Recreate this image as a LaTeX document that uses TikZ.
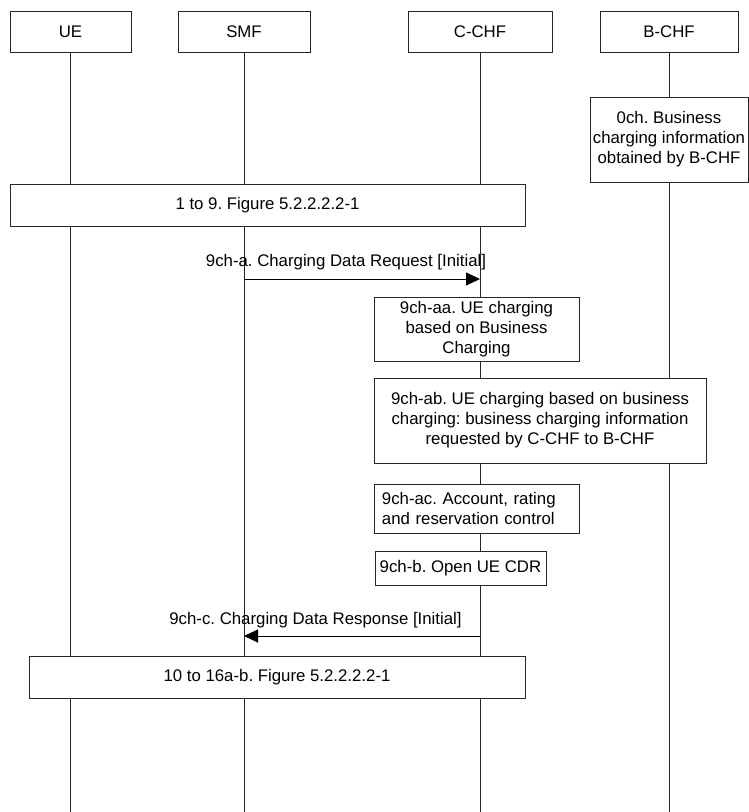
\documentclass[tikz,border=0pt]{standalone}
\usepackage{fontspec}
\setmainfont{Liberation Sans}
\usetikzlibrary{arrows.meta, positioning}
\frenchspacing

\begin{document}
\begin{tikzpicture}[x=1pt, y=-1pt,
    every node/.style={font=\fontsize{16.8}{20}\selectfont},
    entity/.style={draw=black!85, line width=0.9pt, fill=white, minimum width=#1, minimum height=41pt, inner sep=0pt},
    stepbox/.style={draw=black!85, line width=0.9pt, fill=white, align=center, inner sep=0pt},
    life/.style={draw=black!85, line width=0.9pt},
    msg/.style={draw=black, line width=1pt, -{Triangle[length=14pt, width=13pt]}}]
    \useasboundingbox (0,0) rectangle (749,812);

    % entities
    \node[entity=121pt] (ue) at (70.5,31.5) {UE};
    \node[entity=132pt] (smf) at (244,31.5) {SMF};
    \node[entity=144pt] (cchf) at (480,31.5) {C-CHF};
    \node[entity=138pt] (bchf) at (669,31.5) {B-CHF};

    % lifelines
    \coordinate (bottom) at (0,812);
    \foreach \n in {ue,smf,cchf,bchf}
        \draw[life] (\n) -- (\n |- bottom);

    \node[stepbox, minimum width=158pt, minimum height=85pt] (s0) at (669,139.5) {0ch. Business\\charging information\\obtained by B-CHF};
    \node[stepbox, minimum width=515pt, minimum height=42pt] (s1to9) at (267.5,205) {1 to 9. Figure 5.2.2.2.2-1};

    % request
    \coordinate (req) at (0,279);
    \draw[msg] (smf |- req) -- (cchf |- req);
    \node (reqlabel) at (346,262) {9ch-a. Charging Data Request [Initial]};

    \node[stepbox, minimum width=205pt, minimum height=64pt] (saa) at (476.5,329) {9ch-aa. UE charging\\based on Business\\Charging};
    \node[stepbox, minimum width=332pt, minimum height=85pt] (sab) at (540,420.5) {9ch-ab. UE charging based on business\\charging: business charging information\\requested by C-CHF to B-CHF};
    \node[stepbox, anchor=west, align=left, text width=190pt, inner xsep=7.5pt, minimum height=49pt] (sac) at (374,508.5) {9ch-ac. Account, rating\\and reservation control};
    \node[stepbox, minimum width=171pt, minimum height=34pt] (sb) at (460.5,568) {9ch-b. Open UE CDR};

    % response
    \coordinate (resp) at (0,636);
    \draw[msg] (cchf |- resp) -- (smf |- resp);
    \node (resplabel) at (315.5,620) {9ch-c. Charging Data Response [Initial]};

    \node[stepbox, minimum width=496pt, minimum height=42pt] (s10to16) at (277,677) {10 to 16a-b. Figure 5.2.2.2.2-1};
\end{tikzpicture}
\end{document}
